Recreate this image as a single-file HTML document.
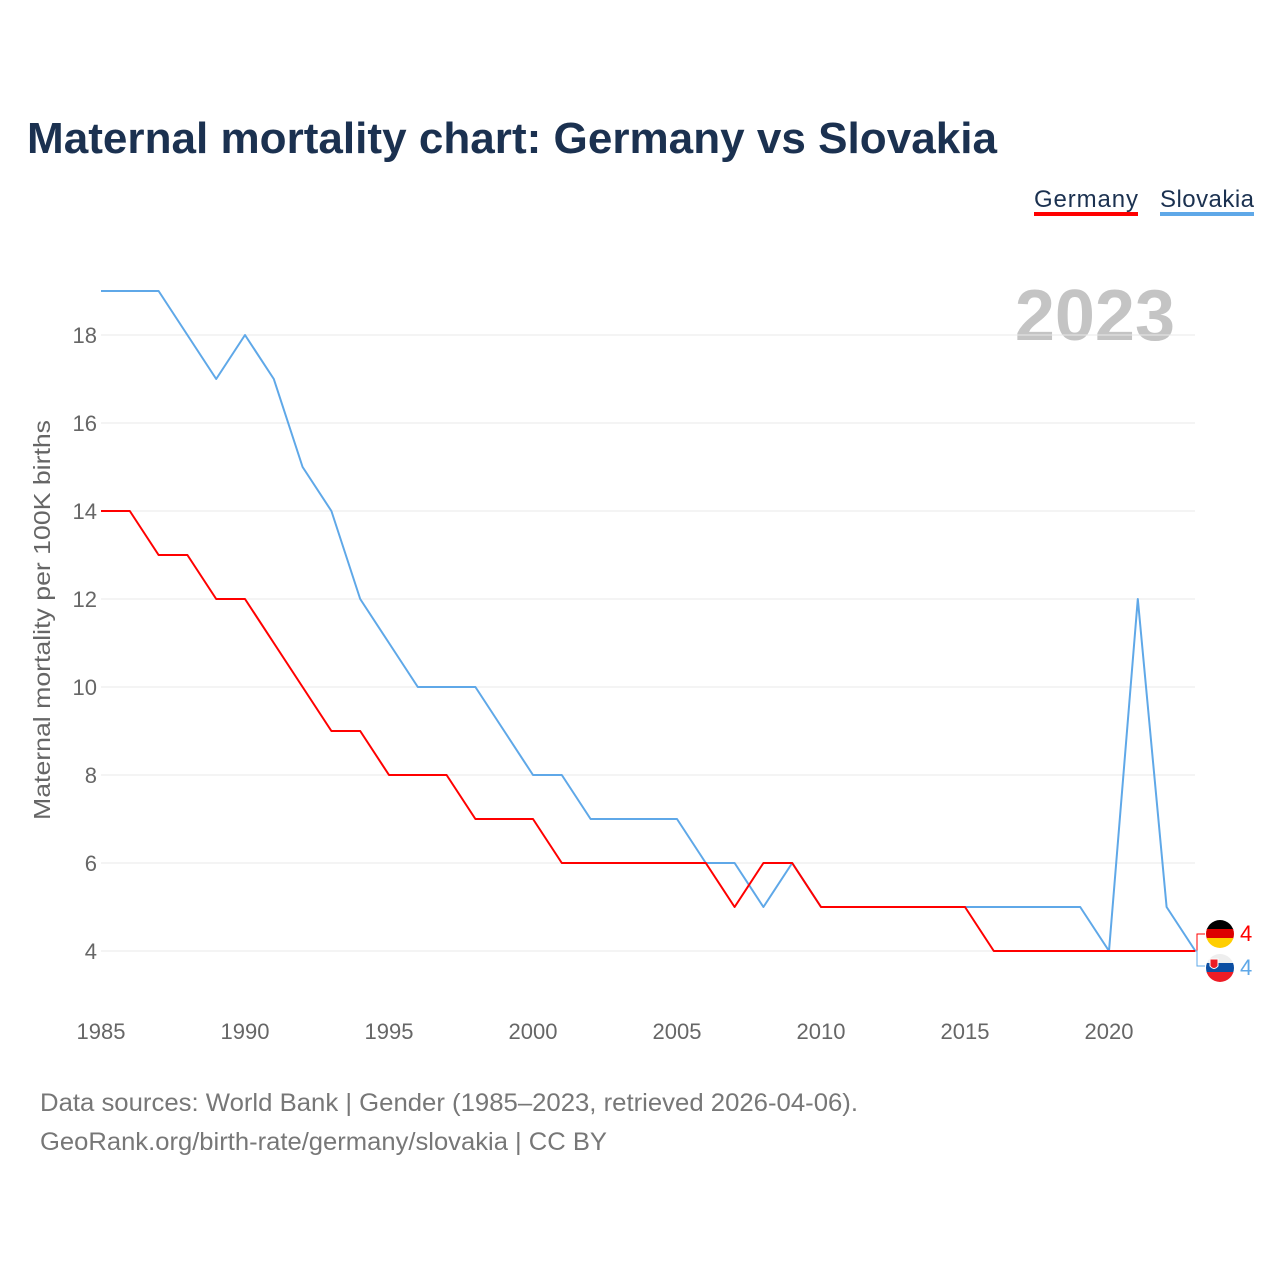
<!DOCTYPE html>
<html><head><meta charset="utf-8"><style>
body{margin:0;background:#fff;font-family:"Liberation Sans",sans-serif}
svg text{font-family:"Liberation Sans",sans-serif}
</style></head><body>
<svg width="1280" height="1280" viewBox="0 0 1280 1280">
<text x="27" y="153" font-size="44" font-weight="bold" fill="#1b3150" textLength="970" lengthAdjust="spacingAndGlyphs">Maternal mortality chart: Germany vs Slovakia</text>
<g>
<text x="1034" y="207" font-size="24" fill="#1b3150" textLength="104">Germany</text>
<rect x="1034" y="212" width="104" height="4" fill="#ff0000"/>
<text x="1160" y="207" font-size="24" fill="#1b3150" textLength="94">Slovakia</text>
<rect x="1160" y="212" width="94" height="4" fill="#5fa8e8"/>
</g>
<text x="1175" y="340" font-size="72" font-weight="bold" fill="#c4c4c4" text-anchor="end">2023</text>
<g id="grid"></g><g id="yt"></g><g id="xt"></g><g id="lines"></g>
<text transform="translate(50,620) rotate(-90)" font-size="23" fill="#666" text-anchor="middle" textLength="400" lengthAdjust="spacingAndGlyphs">Maternal mortality per 100K births</text>
<g>
<path d="M1195,951 L1197,951 L1197,934 L1205,934" stroke="#ff0000" fill="none" stroke-width="1"/>
<path d="M1195,951 L1197,951 L1197,966 L1205,966" stroke="#5fa8e8" fill="none" stroke-width="1"/>
<clipPath id="cg"><circle cx="1220" cy="934" r="14"/></clipPath>
<g clip-path="url(#cg)"><rect x="1206" y="920" width="28" height="10" fill="#000"/><rect x="1206" y="929" width="28" height="10" fill="#dd0000"/><rect x="1206" y="938" width="28" height="10" fill="#ffce00"/></g>
<clipPath id="cs"><circle cx="1220" cy="968" r="14"/></clipPath>
<g clip-path="url(#cs)"><rect x="1206" y="954" width="28" height="10" fill="#eee"/><rect x="1206" y="963" width="28" height="10" fill="#0b4ea2"/><rect x="1206" y="972" width="28" height="10" fill="#ee1c25"/><path d="M1210,959 h8 v7 q-4,5 -8,0 z" fill="#ee1c25" stroke="#fff" stroke-width="1"/></g>
<text x="1240" y="941" font-size="22" fill="#ff0000">4</text>
<text x="1240" y="975" font-size="22" fill="#5fa8e8">4</text>
</g>
<text x="40" y="1111" font-size="25" fill="#777" textLength="818" lengthAdjust="spacingAndGlyphs">Data sources: World Bank | Gender (1985–2023, retrieved 2026-04-06).</text>
<text x="40" y="1150" font-size="25" fill="#777" textLength="567" lengthAdjust="spacingAndGlyphs">GeoRank.org/birth-rate/germany/slovakia | CC BY</text>
</svg>
<script>
const years=[1985,1986,1987,1988,1989,1990,1991,1992,1993,1994,1995,1996,1997,1998,1999,2000,2001,2002,2003,2004,2005,2006,2007,2008,2009,2010,2011,2012,2013,2014,2015,2016,2017,2018,2019,2020,2021,2022,2023];
const germany=[14,14,13,13,12,12,11,10,9,9,8,8,8,7,7,7,6,6,6,6,6,6,5,6,6,5,5,5,5,5,5,4,4,4,4,4,4,4,4];
const slovakia=[19,19,19,18,17,18,17,15,14,12,11,10,10,10,9,8,8,7,7,7,7,6,6,5,6,5,5,5,5,5,5,5,5,5,5,4,12,5,4];
const yTicks=[4,6,8,10,12,14,16,18];
const xTicks=[1985,1990,1995,2000,2005,2010,2015,2020];
const NS="http://www.w3.org/2000/svg";
const xs=y=>101+(y-1985)*28.8;
const ys=v=>951-(v-4)*44;
function mk(t,a,p){const e=document.createElementNS(NS,t);for(const k in a)e.setAttribute(k,a[k]);document.getElementById(p).appendChild(e);return e;}
yTicks.forEach(v=>{
 const l=mk('line',{x1:101,x2:1195,y1:ys(v),y2:ys(v),stroke:'#e8e8e8','stroke-width':1},'grid');
 
 
 const t=mk('text',{x:97,y:ys(v)+8,'font-size':22,fill:'#666','text-anchor':'end'},'yt');t.textContent=v;
 
 
});
xTicks.forEach(v=>{
 const t=mk('text',{x:xs(v),y:1039,'font-size':22,fill:'#666','text-anchor':'middle'},'xt');t.textContent=v;
 
 
});
function line(d,c,n){
 const p=mk('polyline',{points:d.map((v,i)=>xs(years[i])+','+ys(v)).join(' '),fill:'none',stroke:c,'stroke-width':2,'stroke-linejoin':'round'},'lines');
 
 
}
line(slovakia,'#5fa8e8','slovakia-line');
line(germany,'#ff0000','germany-line');
</script>
</body></html>
